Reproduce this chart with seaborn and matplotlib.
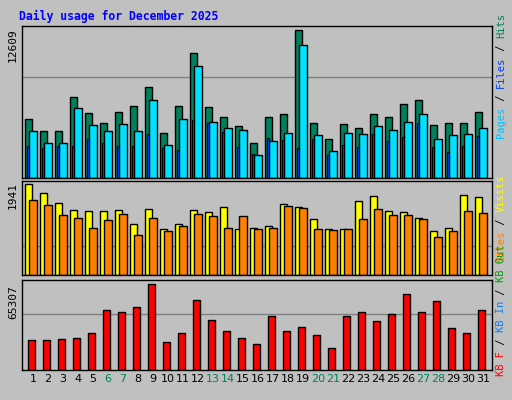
import numpy as np
import pandas as pd
import matplotlib
matplotlib.use("Agg")
import matplotlib.pyplot as plt
import seaborn as sns

days = list(range(1, 32))
hits = [5030, 4000, 4000, 6900, 5540, 4690, 5620, 6130, 7750, 3830, 6130, 10650, 6050, 5200, 4430, 2980,
        5200, 5450, 12609, 4690, 3320, 4600, 4260, 5450, 5200, 6300, 6640, 4510, 4690, 4690, 5620]
pages = [4000, 2980, 2980, 5960, 4510, 4000, 4600, 4000, 6640, 2810, 5030, 9540, 4770, 4260, 4090, 1960,
         3150, 3830, 11330, 3660, 2300, 3830, 3750, 4430, 4090, 4770, 5450, 3320, 3660, 3750, 4260]
files = [2730, 2560, 2730, 2730, 3320, 2980, 2730, 2730, 3750, 2560, 2390, 4940, 4690, 3920, 2640, 2040,
         3410, 3240, 2560, 3320, 1960, 2810, 2640, 3750, 3150, 3490, 4690, 2640, 2210, 2730, 3580]
visits_px = [91, 82, 72, 65, 64, 64, 65, 51, 66, 46, 51, 65, 63, 68, 46, 47, 49, 71, 68, 56, 46, 46, 74, 79,
             64, 63, 57, 44, 47, 80, 78]
sites_px = [75, 70, 60, 57, 47, 55, 61, 40, 57, 44, 49, 61, 59, 47, 59, 46, 47, 69, 67, 46, 45, 46, 56, 66,
            60, 60, 56, 38, 44, 64, 62]
visits = [round(v * 1941 / 91) for v in visits_px]
sites = [round(v * 1941 / 91) for v in sites_px]
kb_px = [30, 30, 31, 32, 37, 60, 58, 63, 86, 28, 37, 70, 50, 39, 32, 26, 54, 39, 43, 35, 22, 54, 58, 49,
         56, 76, 58, 69, 42, 37, 60]
kbytes = [round(v * 65307 / 86) for v in kb_px]
weekends = [6, 7, 13, 14, 20, 21, 27, 28]

BG = "#C0C0C0"
W, H = 512, 400
fig = plt.figure(figsize=(5.12, 4.0), dpi=100, facecolor=BG)
MONO = "DejaVu Sans Mono"

def px_axes(x0, y0, x1, y1):
    ax = fig.add_axes([x0 / W, 1 - y1 / H, (x1 - x0) / W, (y1 - y0) / H])
    ax.set_facecolor(BG)
    for s in ax.spines.values():
        s.set_color("black")
        s.set_linewidth(1)
    return ax

d = np.array(days, dtype=float)

def bars(ax, xs, vals, color, width):
    df = pd.DataFrame({"x": xs, "y": vals})
    sns.barplot(data=df, x="x", y="y", native_scale=True, color=color, width=width,
                saturation=1, edgecolor="black", linewidth=1, ax=ax)
    ax.set_xlabel(""); ax.set_ylabel("")

def finish(ax):
    ax.set_xlim(0.27, 31.6)
    ax.set_xticks([]); ax.set_yticks([])

# top panel
ax1 = px_axes(22, 26, 492, 178)
bars(ax1, d - 0.3, hits, "#00805C", 0.47)
bars(ax1, d, pages, "#00E0FF", 0.5)
ax1.bar(d - 0.34, files, width=0.14, color="#0040FF", edgecolor="black", linewidth=0.8, zorder=3)
ax1.set_ylim(0, 12609 * 152 / 148)
ax1.axhline(12609 * 101 / 148, color="#808080", lw=1, zorder=0)
finish(ax1)

# middle panel
ax2 = px_axes(22, 181, 492, 275)
bars(ax2, d - 0.3, visits, "#FFFF00", 0.5)
bars(ax2, d, sites, "#FF8000", 0.5)
ax2.set_ylim(0, 1941 * 94 / 91)
ax2.axhline(1941 * 29 / 91, color="#808080", lw=1, zorder=0)
finish(ax2)

# bottom panel
ax3 = px_axes(22, 280, 492, 370)
bars(ax3, d - 0.1, kbytes, "#FF0000", 0.5)
ax3.set_ylim(0, 65307 * 90 / 86)
ax3.axhline(65307 * 56 / 86, color="#808080", lw=1, zorder=0)
finish(ax3)
ax3.set_xticks(days)
ax3.set_xticklabels([str(x) for x in days], fontsize=8)
ax3.tick_params(axis="x", length=0, pad=3)
for lab, day in zip(ax3.get_xticklabels(), days):
    lab.set_color("#00805C" if day in weekends else "black")

fig.text(19 / W, 1 - 16 / H, "Daily usage for December 2025", color="#0000FF", fontsize=8.3,
         fontweight="bold", family=MONO, va="center", ha="left")

for txt, y in [("12609", 45), ("1941", 195), ("65307", 302)]:
    fig.text(13 / W, 1 - y / H, txt, rotation=90, fontsize=8, family=MONO, ha="center", va="center")

def right_label(parts, y_bottom):
    y = y_bottom
    ch = 6.25
    for txt, col in parts:
        fig.text(501 / W, 1 - y / H, txt, rotation=90, color=col, fontsize=7.5, family=MONO,
                 ha="center", va="bottom")
        y -= ch * len(txt)

right_label([("Pages", "#00C0FF"), (" / ", "black"), ("Files", "#0040FF"), (" / ", "black"),
             ("Hits", "#00805C")], 138)
right_label([("Sites", "#FF8000"), (" / ", "black"), ("Visits", "#FFFF00")], 262)
right_label([("KB F", "#FF0000"), (" / ", "black"), ("KB In", "#0080FF"), (" / ", "black"),
             ("KB Out", "#00A000")], 376)

fig.savefig("out.png", dpi=100, facecolor=BG)
